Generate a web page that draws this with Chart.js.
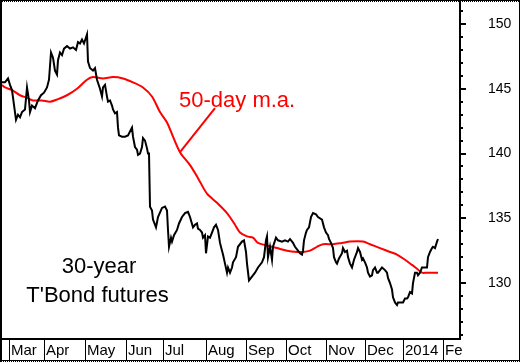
<!DOCTYPE html>
<html>
<head>
<meta charset="utf-8">
<script src="https://cdn.jsdelivr.net/npm/chart.js@4.4.1/dist/chart.umd.min.js"></script>
<style>
  html, body { margin: 0; padding: 0; background: #fff; }
  canvas { display: block; }
</style>
</head>
<body>
<canvas id="bond-chart" width="520" height="362"></canvas>
<script>
// x unit: trading sessions from the left edge of the plot
const monthStarts = [3.5, 21, 41.5, 62, 80.5, 102, 122, 142, 162, 181.5, 200.5, 220.5];
const monthLabels = ['Mar', 'Apr', 'May', 'Jun', 'Jul', 'Aug', 'Sep', 'Oct', 'Nov', 'Dec', '2014', 'Fe'];
const yMajorTicks = [130, 135, 140, 145, 150];

const priceDays = [
    0, 1.5, 3, 4, 5, 7, 8, 9, 10, 11.5, 12.5, 13.5, 14, 15, 16.5, 18, 19.5, 21, 22.5, 23.5,
    24.5, 25.5, 26.5, 27.5, 28, 29, 30, 31, 32.5, 34, 35.5, 37, 38, 39, 40, 41, 42.5, 43, 44, 45.5,
    46.5, 47.5, 49, 50, 50.5, 51.5, 52.5, 53, 54, 55, 55.5, 56.5, 57.5, 58, 58.5, 60, 61.5, 63, 64, 65,
    65.5, 66.5, 67.5, 68, 69, 70, 70.5, 71.5, 72.5, 73, 73.5, 74, 75, 75.5, 77, 78, 80, 81.5, 82.5, 83,
    83.5, 84.5, 85, 86, 87.5, 88.5, 90, 91.5, 93, 94, 95.5, 96.5, 97.5, 98, 99, 100, 100.5, 101.5, 102, 103,
    104, 105, 106, 107, 108, 109, 110, 110.5, 111.5, 112.5, 113, 114, 115, 115.5, 117, 118, 120, 121, 122, 122.5,
    123.5, 125, 126.5, 128, 130, 131, 132, 132.5, 133, 134, 135, 135.5, 137, 138, 140, 141.5, 143, 144, 145.5, 146.5,
    148, 149, 150, 150.5, 151, 152, 152.5, 153.5, 154.5, 155.5, 157, 158, 160, 161, 162, 163, 163.5, 164.5, 165.5, 166,
    167, 167.5, 168.5, 170, 170.5, 171.5, 172.5, 173, 174, 175, 176, 177.5, 178, 179, 180, 180.5, 181.5, 182.5, 183, 184,
    185, 185.5, 186.5, 187.5, 188, 189, 190, 191.5, 192.5, 193, 194, 195, 195.5, 196.5, 197.5, 198, 199, 200.5, 201.5, 202.5,
    203, 204, 205, 205.5, 206.5, 207.5, 208, 209, 210, 210.5, 211.5, 212.5, 213, 214, 215, 215.5, 216.5, 217.5, 218
];
const priceValues = [
    145.5, 145.5, 145.8, 145.3, 144.9, 142.6, 143.0, 142.8, 143.2, 143.4, 145.1, 144.1, 143.2, 143.7, 143.5, 144.1, 144.5, 144.7, 145.1, 145.7,
    147.8, 147.4, 146.4, 146.1, 147.2, 147.8, 147.6, 148.1, 148.3, 148.1, 148.2, 148.0, 148.6, 148.5, 148.8, 148.5, 149.2, 147.1, 146.6, 146.4,
    146.6, 145.7, 145.0, 144.4, 145.1, 145.3, 144.4, 144.0, 144.1, 143.7, 143.4, 143.1, 143.2, 142.0, 141.4, 141.3, 141.3, 141.4, 141.7, 142.0,
    141.3, 140.5, 140.3, 139.9, 140.0, 140.5, 141.2, 141.0, 140.4, 140.0, 140.0, 135.9, 135.6, 134.9, 134.3, 135.1, 135.8, 135.9, 135.6, 134.1,
    132.8, 133.5, 133.2, 133.7, 134.1, 134.6, 135.1, 135.4, 135.5, 135.1, 134.3, 134.5, 134.6, 134.2, 134.1, 133.9, 133.5, 133.7, 132.3, 133.6,
    133.5, 133.9, 134.3, 134.5, 134.1, 133.1, 132.5, 132.2, 131.5, 130.8, 131.2, 130.8, 131.2, 131.6, 132.0, 132.8, 133.2, 133.3, 132.4, 131.5,
    130.2, 130.5, 130.8, 131.2, 131.6, 132.0, 133.3, 133.6, 132.0, 132.8, 131.8, 132.8, 133.5, 133.3, 133.2, 133.3, 133.2, 133.4, 133.1, 132.8,
    132.5, 132.3, 132.2, 132.5, 133.3, 133.9, 134.1, 134.3, 135.1, 135.4, 135.3, 135.1, 134.9, 134.3, 133.9, 133.7, 133.4, 133.1, 132.7, 132.0,
    131.6, 131.5, 131.9, 132.3, 132.7, 132.4, 132.5, 132.0, 131.5, 131.2, 131.8, 132.4, 132.7, 132.4, 131.8, 131.9, 131.6, 131.2, 130.8, 130.5,
    130.6, 131.0, 131.2, 130.8, 130.8, 131.0, 131.2, 131.0, 130.8, 130.4, 130.0, 129.5, 128.9, 128.5, 128.3, 128.5, 128.5, 128.5, 128.8, 128.8,
    128.9, 129.3, 129.2, 130.0, 130.8, 130.8, 130.6, 130.8, 131.2, 131.2, 131.2, 131.2, 132.0, 132.4, 132.7, 132.8, 132.7, 133.2, 133.4
];

const maDays = [
    0, 1.5, 5, 9, 12.5, 15.5, 20, 24, 28, 32.5, 37.5, 42.5, 45.5, 50.5, 55.5, 60.5, 65.5, 70.5, 75, 79,
    82.5, 85.5, 89, 94, 98, 102.5, 107.5, 112.5, 116.5, 119, 122.5, 125.5, 128, 132.5, 137.5, 142.5, 147.5, 150.5, 154, 157.5,
    160.5, 165.5, 170, 174, 180.5, 184, 189, 194, 197.5, 201.5, 205, 207.5, 210, 212.5, 215.5, 218
];
const maValues = [
    145.3, 145.1, 144.9, 144.5, 144.3, 144.1, 144.1, 144.0, 144.2, 144.5, 145.0, 145.7, 145.9, 145.8, 145.9, 145.8, 145.5, 145.1, 144.4, 143.2,
    142.4, 141.3, 140.1, 139.1, 138.1, 136.9, 136.2, 135.4, 134.5, 133.9, 133.6, 133.5, 133.1, 132.9, 132.7, 132.5, 132.4, 132.4, 132.5, 132.8,
    133.0, 133.0, 133.1, 133.2, 133.2, 133.0, 132.7, 132.4, 132.2, 131.8, 131.4, 131.1, 130.8, 130.8, 130.8, 130.8
];

const FONT = '"Liberation Sans", Arial, sans-serif';
Chart.defaults.font.family = FONT;
Chart.defaults.color = '#000';

const toPoints = (xs, ys) => xs.map((x, i) => ({ x: x, y: ys[i] }));

// no extra room for half labels, the frame is fixed
function noPadding(scale) {
    scale.paddingTop = 0;
    scale.paddingBottom = 0;
    scale.paddingLeft = 0;
    scale.paddingRight = 0;
}

// frame round the picture, like the original gif
const framePlugin = {
    id: 'frame',
    afterDraw(chart) {
        const ctx = chart.ctx;
        const w = chart.width, h = chart.height;
        ctx.save();
        ctx.fillStyle = '#000';
        ctx.fillRect(0, 0, w, 1);
        for (let i = 0; i < w; i += 2) ctx.fillRect(i, 1, 1, 1);
        ctx.fillRect(0, 0, 2, h);
        ctx.fillRect(w - 1, 0, 1, h);
        ctx.fillRect(0, h - 2, w, 1);
        for (let i = 1; i < w; i += 2) ctx.fillRect(i, h - 1, 1, 1);
        ctx.restore();
    }
};

const notesPlugin = {
    id: 'notes',
    afterDatasetsDraw(chart) {
        const { ctx, scales: { x, y } } = chart;
        ctx.save();
        ctx.font = '22px ' + FONT;
        ctx.textBaseline = 'alphabetic';

        ctx.fillStyle = '#ff0000';
        ctx.textAlign = 'left';
        ctx.fillText('50-day m.a.', x.getPixelForValue(88.5), y.getPixelForValue(143.6));
        ctx.strokeStyle = '#ff0000';
        ctx.lineWidth = 2;
        ctx.beginPath();
        ctx.moveTo(x.getPixelForValue(89), y.getPixelForValue(140.1));
        ctx.lineTo(x.getPixelForValue(106.5), y.getPixelForValue(143.5));
        ctx.stroke();

        ctx.fillStyle = '#000';
        ctx.textAlign = 'center';
        ctx.fillText('30-year', x.getPixelForValue(48.5), y.getPixelForValue(130.77));
        ctx.fillText("T'Bond futures", x.getPixelForValue(47.75), y.getPixelForValue(128.57));
        ctx.restore();
    }
};

const yMin = 125.68, yMax = 151.7;

new Chart(document.getElementById('bond-chart'), {
    type: 'line',
    data: {
        datasets: [
            {
                label: '30-year T-Bond futures',
                data: toPoints(priceDays, priceValues),
                borderColor: '#000',
                borderWidth: 2,
                pointRadius: 0,
                tension: 0
            },
            {
                label: '50-day m.a.',
                data: toPoints(maDays, maValues),
                borderColor: '#ff0000',
                borderWidth: 2,
                pointRadius: 0,
                tension: 0.3
            }
        ]
    },
    options: {
        responsive: false,
        animation: false,
        devicePixelRatio: 1,
        layout: { padding: { left: 2, top: 2, right: 0, bottom: 2 } },
        plugins: {
            legend: { display: false },
            tooltip: { enabled: false }
        },
        scales: {
            x: {
                type: 'linear',
                min: 0,
                max: 229,
                afterBuildTicks: (scale) => {
                    scale.ticks = monthStarts.map(v => ({ value: v }));
                },
                afterFit: (scale) => { scale.height = 21; noPadding(scale); },
                grid: { drawOnChartArea: false, color: '#000', lineWidth: 1, tickLength: 21 },
                border: { display: true, color: '#000', width: 2 },
                ticks: {
                    autoSkip: false,
                    maxRotation: 0,
                    minRotation: 0,
                    align: 'start',
                    labelOffset: 2,
                    padding: -18,
                    font: { size: 15 },
                    callback: (value, index) => monthLabels[index]
                }
            },
            y: {
                position: 'right',
                weight: 1,
                min: yMin,
                max: yMax,
                afterBuildTicks: (scale) => {
                    scale.ticks = yMajorTicks.map(v => ({ value: v }));
                },
                afterFit: (scale) => { scale.width = 60; noPadding(scale); },
                grid: { drawOnChartArea: false, color: '#000', lineWidth: 2, tickLength: 6 },
                border: { display: true, color: '#000', width: 2 },
                ticks: {
                    crossAlign: 'center',
                    padding: 22,
                    font: { size: 14 }
                }
            },
            yMinor: {
                position: 'right',
                weight: 0,
                min: yMin,
                max: yMax,
                afterBuildTicks: (scale) => {
                    const t = [];
                    for (let v = Math.ceil(yMin); v <= yMax; v++) t.push({ value: v });
                    scale.ticks = t;
                },
                afterFit: (scale) => { scale.width = 0; noPadding(scale); },
                grid: { drawOnChartArea: false, color: '#000', lineWidth: 2, tickLength: 3 },
                border: { display: false },
                ticks: { display: false }
            }
        }
    },
    plugins: [framePlugin, notesPlugin]
});
</script>
</body>
</html>
